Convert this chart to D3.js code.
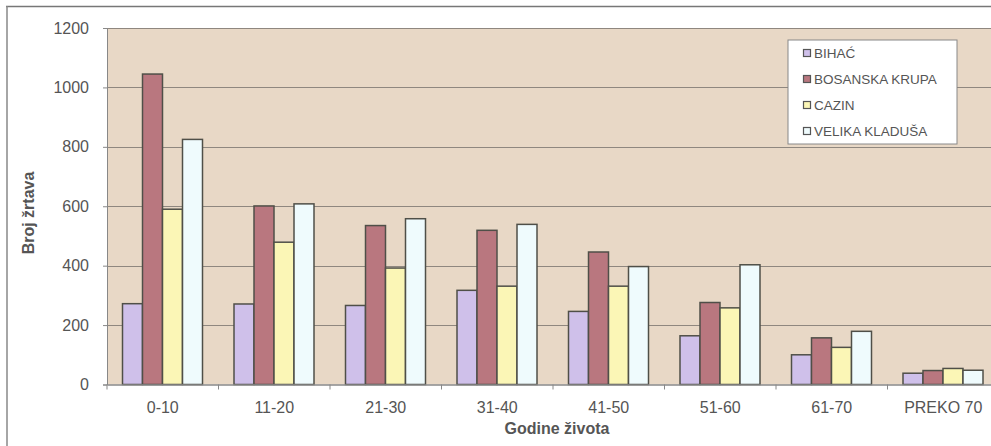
<!DOCTYPE html>
<html><head><meta charset="utf-8">
<script src="https://cdn.jsdelivr.net/npm/d3@7"></script>
<style>body{margin:0;background:#fff;}svg{display:block;font-family:"Liberation Sans",Arial,sans-serif;}</style>
</head><body>
<svg id="c" width="991" height="446"></svg>
<script>
const categories = ["0-10","11-20","21-30","31-40","41-50","51-60","61-70","PREKO 70"];
const seriesNames = ["BIHAĆ","BOSANSKA KRUPA","CAZIN","VELIKA KLADUŠA"];
const bihac = [272, 271, 266, 317, 246, 164, 100, 38];
const bosanskaKrupa = [1045, 601, 535, 519, 446, 276, 157, 47];
const cazin = [590, 479, 392, 331, 331, 258, 125, 54];
const velikaKladusa = [825, 608, 558, 539, 397, 403, 179, 48];
const yTicks = [0, 200, 400, 600, 800, 1000, 1200];
const colors = ["#cfc0ea", "#b9777f", "#fbf6b6", "#effbfd"];
const seriesValues = [bihac, bosanskaKrupa, cazin, velikaKladusa];

const svg = d3.select("#c");
const L = 107, T = 28, B = 384.5, R = 999;

// outer frame lines
svg.append("line").attr("x1",6).attr("x2",991).attr("y1",6.5).attr("y2",6.5).attr("stroke","#777").attr("stroke-width",1.5);
svg.append("line").attr("x1",7).attr("x2",7).attr("y1",6).attr("y2",446).attr("stroke","#888").attr("stroke-width",1.5);

const y = d3.scaleLinear().domain([0,1200]).range([B, T]);
const x0 = d3.scaleBand().domain(categories).range([L, R]).padding(0);
const x1 = d3.scaleBand().domain(seriesNames).range([15.5, x0.bandwidth()-16]).padding(0);

svg.append("rect").attr("x",L).attr("y",T).attr("width",R-L).attr("height",B-T).attr("fill","#e8d8c6");

// gridlines
svg.append("g").selectAll("line").data(yTicks.filter(d=>d>0)).join("line")
  .attr("x1",L).attr("x2",R).attr("y1",d=>Math.round(y(d))+0.5).attr("y2",d=>Math.round(y(d))+0.5)
  .attr("stroke","#8f877f").attr("stroke-width",1);

// bars
const groups = svg.append("g").selectAll("g").data(categories).join("g")
  .attr("transform",c=>`translate(${x0(c)},0)`);
groups.selectAll("rect").data((c,i)=>seriesNames.map((s,j)=>({s, j, v: seriesValues[j][i]}))).join("rect")
  .attr("x",d=>x1(d.s)).attr("width",x1.bandwidth())
  .attr("y",d=>y(d.v)).attr("height",d=>B-y(d.v))
  .attr("fill",d=>colors[d.j]).attr("stroke","#4f4f48").attr("stroke-width",1.5);

// y axis
const yAxis = svg.append("g").attr("transform",`translate(${L},0)`)
  .call(d3.axisLeft(y).tickValues(yTicks).tickFormat(d3.format("d")).tickSize(4).tickPadding(14));
yAxis.select(".domain").attr("stroke","#888");
yAxis.selectAll(".tick line").attr("stroke","#888");
yAxis.selectAll("text").attr("font-size",16).attr("fill","#555").attr("font-family","Liberation Sans, Arial");

// x axis
const xAxis = svg.append("g").attr("transform",`translate(0,${B})`)
  .call(d3.axisBottom(x0).tickSize(0).tickPadding(17));
xAxis.select(".domain").attr("stroke","#888").attr("stroke-width",1.5);
xAxis.selectAll("text").attr("font-size",16).attr("fill","#555").attr("font-family","Liberation Sans, Arial");
// boundary tick marks
svg.append("g").selectAll("line").data(categories.map(c=>x0(c))).join("line")
  .attr("x1",d=>d).attr("x2",d=>d).attr("y1",B).attr("y2",B+5).attr("stroke","#888");

// axis titles
svg.append("text").attr("x",557).attr("y",434).attr("text-anchor","middle")
  .attr("font-size",16).attr("font-weight","bold").attr("fill","#555").text("Godine života");
svg.append("text").attr("transform","translate(34,213) rotate(-90)").attr("text-anchor","middle")
  .attr("font-size",16).attr("font-weight","bold").attr("fill","#555").text("Broj žrtava");

// legend
const lg = svg.append("g");
lg.append("rect").attr("x",788).attr("y",40).attr("width",169).attr("height",104)
  .attr("fill","#fff").attr("stroke","#888").attr("stroke-width",1);
const items = lg.selectAll("g").data(seriesNames).join("g")
  .attr("transform",(d,i)=>`translate(803,${53 + i*26})`);
items.append("rect").attr("x",0.5).attr("y",-3.5).attr("width",7).attr("height",7)
  .attr("fill",(d,i)=>colors[i]).attr("stroke","#555").attr("stroke-width",1.2);
items.append("text").attr("x",11).attr("y",5).attr("font-size",13.5).attr("fill","#555").text(d=>d);
</script>
</body></html>
